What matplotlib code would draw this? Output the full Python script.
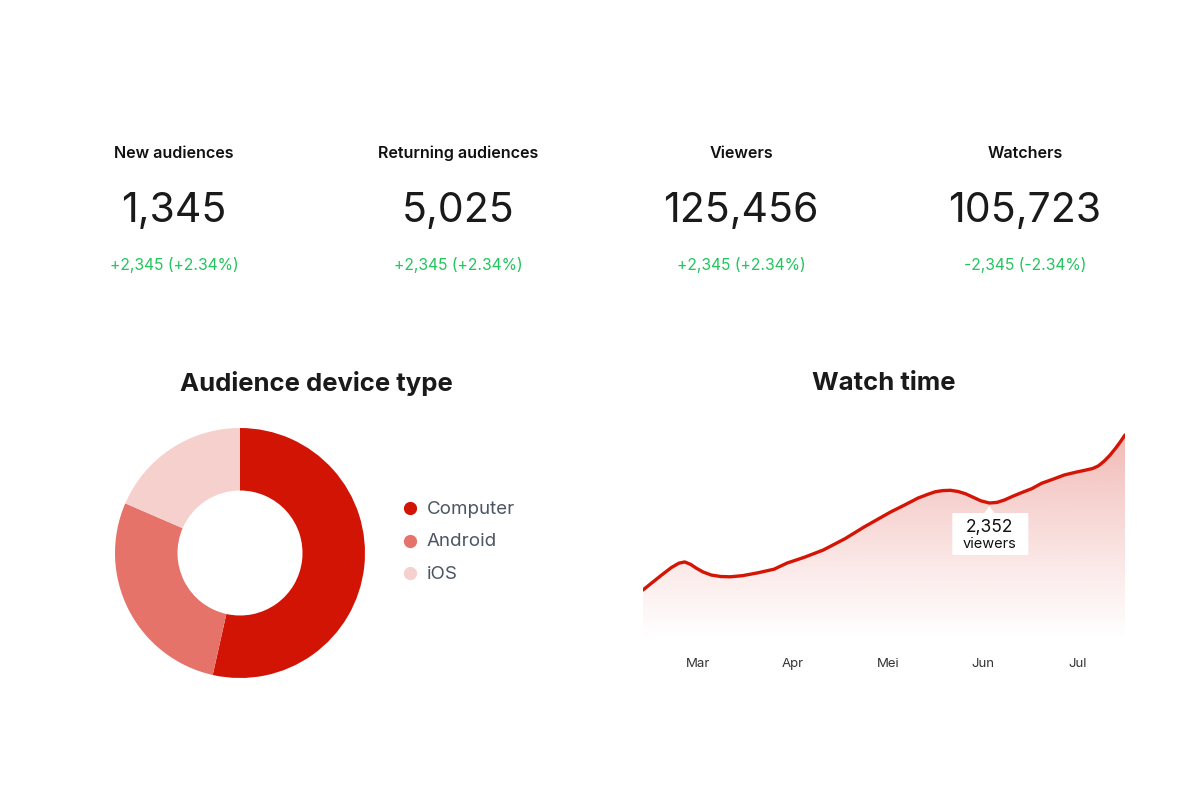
import numpy as np
import matplotlib
matplotlib.use("Agg")
import matplotlib.pyplot as plt
from matplotlib.colors import to_rgb
from matplotlib.lines import Line2D
from matplotlib.patches import Polygon

plt.rcParams["font.family"] = ["Inter", "DejaVu Sans"]

# KPI cards
kpi_titles = ["New audiences", "Returning audiences", "Viewers", "Watchers"]
kpi_values = ["1,345", "5,025", "125,456", "105,723"]
kpi_changes = ["+2,345 (+2.34%)", "+2,345 (+2.34%)", "+2,345 (+2.34%)", "-2,345 (-2.34%)"]

# device donut
devices = ["Computer", "Android", "iOS"]
device_share = [53.5, 28.0, 18.5]
device_colors = ["#d21404", "#e5736a", "#f6d0cd"]

# watch time (x = month number, 3 = Mar)
month_ticks = [3, 4, 5, 6, 7]
month_labels = ["Mar", "Apr", "Mei", "Jun", "Jul"]
watch_x = [2.42, 2.52, 2.62, 2.72, 2.80, 2.86, 2.92, 2.98, 3.05, 3.14,
           3.24, 3.34, 3.47, 3.62, 3.80, 3.94, 4.12, 4.32, 4.55, 4.75,
           5.03, 5.18, 5.32, 5.42, 5.50, 5.58, 5.66, 5.74, 5.82, 5.90,
           5.98, 6.07, 6.15, 6.23, 6.32, 6.41, 6.52, 6.62, 6.74, 6.86,
           6.98, 7.08, 7.16, 7.22, 7.28, 7.34, 7.40, 7.45, 7.50]
watch_y = [859, 990, 1120, 1245, 1320, 1340, 1300, 1235, 1170, 1115,
           1090, 1085, 1105, 1150, 1215, 1322, 1420, 1545, 1740, 1940,
           2198, 2320, 2438, 2500, 2545, 2565, 2570, 2550, 2510, 2450,
           2390, 2352, 2362, 2404, 2470, 2530, 2600, 2690, 2760, 2833,
           2880, 2915, 2945, 2990, 3070, 3170, 3290, 3400, 3520]
tip_value = "2,352"
tip_x = 6.07

fig = plt.figure(figsize=(12, 8), dpi=100)
W, H = 1200, 800

def fx(px):
    return px / W

def fy(py):
    return 1 - py / H

# KPI row
kpi_cx = [174, 458, 741, 1025]
for cx, t, v, c in zip(kpi_cx, kpi_titles, kpi_values, kpi_changes):
    fig.text(fx(cx), fy(153.5), t, ha="center", va="center", fontsize=11.6,
             fontweight="semibold", color="#111111")
    fig.text(fx(cx), fy(211), v, ha="center", va="center", fontsize=29.5,
             color="#1a1a1a")
    fig.text(fx(cx), fy(265), c, ha="center", va="center", fontsize=11.3,
             color="#22c55e")

# section titles
fig.text(fx(316), fy(383), "Audience device type", ha="center", va="center",
         fontsize=18.5, fontweight="bold", color="#1a1a1a")
fig.text(fx(884), fy(383), "Watch time", ha="center", va="center",
         fontsize=18.5, fontweight="bold", color="#1a1a1a")

# donut
r = 125
cx, cy = 240, 553
ax1 = fig.add_axes([fx(cx - r), fy(cy + r), 2 * r / W, 2 * r / H])
ax1.pie(device_share, colors=device_colors, startangle=90, counterclock=False,
        radius=1, wedgeprops=dict(width=0.5, linewidth=0))
ax1.set_xlim(-1, 1)
ax1.set_ylim(-1, 1)
ax1.set_aspect("equal")
ax1.axis("off")

for i, (name, col) in enumerate(zip(devices, device_colors)):
    yy = 508 + i * 32.5
    fig.add_artist(Line2D([fx(410)], [fy(yy)], marker="o", markersize=8.5,
                          color=col, linestyle="none"))
    fig.text(fx(427), fy(yy + 1.5), name, ha="left", va="center", fontsize=13.5,
             color="#4b5563")

# watch time line
ax2 = fig.add_axes([fx(643), fy(640), 482 / W, 220 / H])
x = np.array(watch_x)
y = np.array(watch_y)
ytop = 3777
ax2.set_xlim(x[0], x[-1])
ax2.set_ylim(0, ytop)

base = np.array(to_rgb("#e9908a"))
n = 256
grad = np.zeros((n, 2, 4))
grad[:, :, :3] = base
alpha = np.linspace(0.65, 0.0, n) ** 1.1
grad[:, :, 3] = alpha[:, None]
img = ax2.imshow(grad, extent=[x[0], x[-1], 0, y.max()], origin="upper",
                 aspect="auto", zorder=1)
poly = ax2.fill_between(x, y, 0, color="none")
img.set_clip_path(poly.get_paths()[0], transform=ax2.transData)

ax2.plot(x, y, color="#d41505", linewidth=2.4, solid_capstyle="round",
         solid_joinstyle="round", zorder=3)

ax2.set_xticks(month_ticks)
ax2.set_xticklabels(month_labels)
ax2.tick_params(axis="x", length=0, pad=13, labelsize=9.5, labelcolor="#333333")
ax2.set_yticks([])
for s in ax2.spines.values():
    s.set_visible(False)

# tooltip
tip_y = np.interp(tip_x, x, y)
ppx = ytop / 220.0
xpp = (x[-1] - x[0]) / 482.0
box_top = tip_y - 10 * ppx
box_bot = tip_y - 52 * ppx
bx0 = tip_x - 37 * xpp
bx1 = tip_x + 39 * xpp
ax2.add_patch(Polygon([[bx0, box_bot], [bx1, box_bot], [bx1, box_top],
                       [tip_x + 5 * xpp, box_top], [tip_x, tip_y - 3 * ppx],
                       [tip_x - 5 * xpp, box_top], [bx0, box_top]],
                      closed=True, facecolor="white", edgecolor="none",
                      zorder=4))
ax2.text(tip_x, box_top - 14 * ppx, tip_value, ha="center", va="center",
         fontsize=12.5, color="#111111", zorder=5)
ax2.text(tip_x, box_top - 31 * ppx, "viewers", ha="center", va="center",
         fontsize=10.5, color="#111111", zorder=5)

fig.savefig("out.png", dpi=100, facecolor="white")
